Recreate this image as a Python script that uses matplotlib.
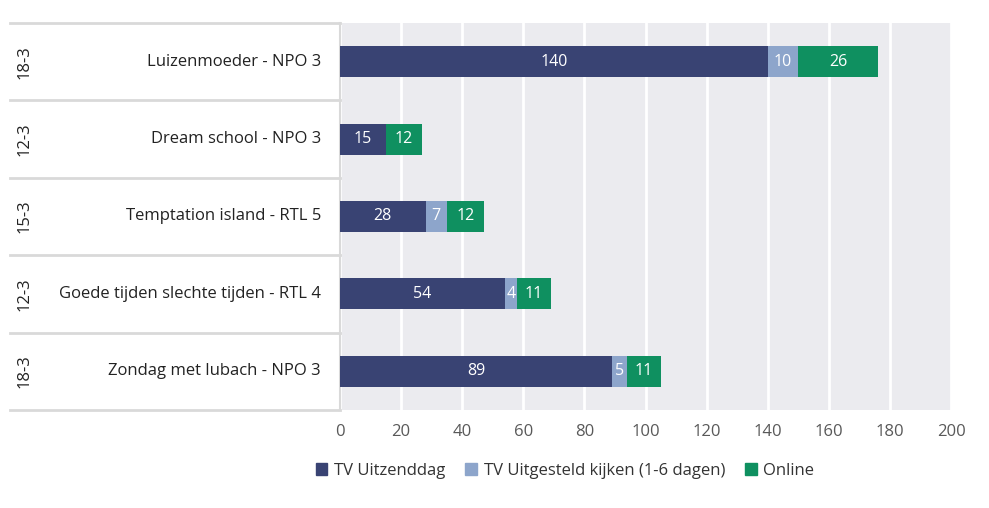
import matplotlib.pyplot as plt
from matplotlib.patches import Patch

# data (top to bottom)
dates = ["18-3", "12-3", "15-3", "12-3", "18-3"]
programs = ["Luizenmoeder - NPO 3", "Dream school - NPO 3", "Temptation island - RTL 5",
            "Goede tijden slechte tijden - RTL 4", "Zondag met lubach - NPO 3"]
series_names = ["TV Uitzenddag", "TV Uitgesteld kijken (1-6 dagen)", "Online"]
uitzenddag = [140, 15, 28, 54, 89]
uitgesteld = [10, 0, 7, 4, 5]
online = [26, 12, 12, 11, 11]
xticks = [0, 20, 40, 60, 80, 100, 120, 140, 160, 180, 200]

colors = ["#394373", "#8DA5CB", "#0F9060"]
plt.rcParams['font.family'] = ['Open Sans', 'DejaVu Sans']

W, H = 989, 508
fig = plt.figure(figsize=(W / 100, H / 100), dpi=100)
x0, x1, ytop, ybot = 340, 951, 23, 410
ax = fig.add_axes([x0 / W, 1 - ybot / H, (x1 - x0) / W, (ybot - ytop) / H])
ax.set_facecolor("#EBEBEF")

ypos = list(range(len(programs)))
left = [0] * len(programs)
for vals, col in zip([uitzenddag, uitgesteld, online], colors):
    bars = ax.barh(ypos, vals, left=left, height=0.4, color=col, zorder=3)
    for b, v in zip(bars, vals):
        if v > 0:
            ax.text(b.get_x() + b.get_width() / 2, b.get_y() + b.get_height() / 2, str(v),
                    ha="center", va="center", color="white", fontsize=11.5, zorder=4)
    left = [l + v for l, v in zip(left, vals)]

ax.set_xlim(0, 200)
ax.set_ylim(len(programs) - 0.5, -0.5)
ax.set_xticks(xticks)
ax.set_xticklabels([str(t) for t in xticks], fontsize=12, color="#595959")
ax.set_yticks([])
ax.tick_params(axis="x", length=0, pad=10)
ax.grid(axis="x", color="white", linewidth=2, zorder=1)
for s in ["top", "right", "bottom"]:
    ax.spines[s].set_visible(False)
ax.spines["left"].set_color("#D9D9D9")
ax.spines["left"].set_linewidth(1.5)

# table on the left
aw = x1 - x0
tl = (10 - x0) / aw
for i in range(len(programs) + 1):
    ax.plot([tl, 0], [1 - i / len(programs)] * 2, transform=ax.transAxes,
            color="#D9D9D9", lw=2, clip_on=False)
for i, (d, p) in enumerate(zip(dates, programs)):
    yc = 1 - (i + 0.5) / len(programs)
    ax.text((25 - x0) / aw, yc, d, transform=ax.transAxes, rotation=90,
            ha="center", va="center", fontsize=12, color="#222222")
    ax.text((321 - x0) / aw, yc, p, transform=ax.transAxes,
            ha="right", va="center", fontsize=12, color="#222222")

handles = [Patch(color=c) for c in colors]
fig.legend(handles, series_names, loc="center", bbox_to_anchor=(565 / W, 1 - 471 / H),
           ncol=3, frameon=False, fontsize=12, handlelength=0.7, handleheight=0.7,
           handletextpad=0.4, columnspacing=1.2, labelcolor="#333333")

fig.savefig("out.png", dpi=100)
